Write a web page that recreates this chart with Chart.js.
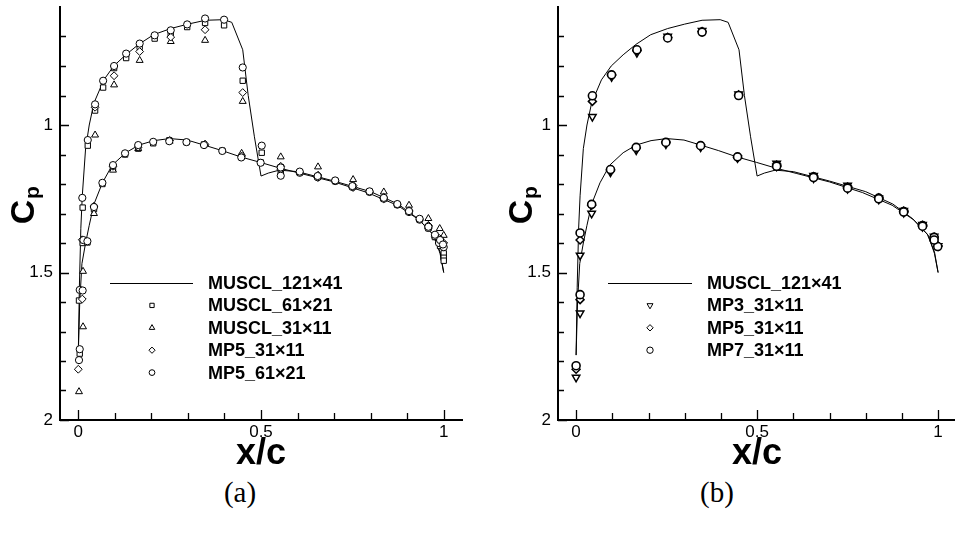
<!DOCTYPE html>
<html>
<head>
<meta charset="utf-8">
<script src="https://cdn.jsdelivr.net/npm/chart.js@4.4.0/dist/chart.umd.min.js"></script>
<style>
  body { margin: 0; width: 955px; height: 542px; overflow: hidden; background: #fff; position: relative; }
  canvas { position: absolute; top: 0; }
  #chartA { left: 0; }
  #chartB { left: 480px; }
  .cap { position: absolute; top: 476px; width: 80px; text-align: center; font-family: "Liberation Serif", serif; font-size: 29px; color: #000; }
</style>
</head>
<body>
<canvas id="chartA" width="480" height="476"></canvas>
<canvas id="chartB" width="482" height="476"></canvas>
<div class="cap" style="left:200px">(a)</div>
<div class="cap" style="left:677px">(b)</div>
<script>
// axis ticks
const xMajor = [0, 0.5, 1];
const yMajor = [1, 1.5, 2];
const xTickMarks = [0, 0.1, 0.2, 0.3, 0.4, 0.5, 0.6, 0.7, 0.8, 0.9, 1];
const yTickMarks = [0.7, 0.8, 0.9, 1, 1.1, 1.2, 1.3, 1.4, 1.5, 1.6, 1.7, 1.8, 1.9, 2];

// MUSCL_121x41 traced as one loop: TE -> upper (shock) side -> LE -> lower side -> TE
const fineX = [1.0, 0.99, 0.97, 0.93, 0.875, 0.8, 0.7, 0.6, 0.55, 0.52, 0.5, 0.482, 0.465, 0.45, 0.42,
  0.398, 0.348, 0.3, 0.253, 0.206, 0.165, 0.13, 0.097, 0.07, 0.043, 0.03, 0.02, 0.011, 0.007, 0.003, 0,
  0.004, 0.01, 0.02, 0.03, 0.043, 0.066, 0.093, 0.13, 0.166, 0.207, 0.25, 0.298, 0.344, 0.394, 0.444,
  0.499, 0.554, 0.608, 0.7, 0.791, 0.873, 0.932, 0.973, 0.99, 1.0];
const fineCp = [1.5, 1.43, 1.37, 1.318, 1.268, 1.226, 1.19, 1.158, 1.153, 1.163, 1.173, 1.04, 0.9, 0.745, 0.652,
  0.643, 0.645, 0.658, 0.673, 0.694, 0.727, 0.762, 0.8, 0.847, 0.925, 1.0, 1.08, 1.24, 1.35, 1.55, 1.78,
  1.6, 1.47, 1.4, 1.34, 1.268, 1.196, 1.136, 1.094, 1.068, 1.053, 1.046, 1.051, 1.068, 1.087, 1.108,
  1.127, 1.147, 1.164, 1.193, 1.229, 1.272, 1.321, 1.374, 1.436, 1.5];

// (a) MUSCL_61x21
const muscl61X = [0.004, 0.002, 0.012, 0.026, 0.046, 0.068, 0.098, 0.131, 0.168, 0.209, 0.253, 0.298, 0.347, 0.399,
  0.45, 0.502, 0.554, 0.606, 0.655, 0.703, 0.75, 0.797, 0.836, 0.873, 0.905, 0.934, 0.958, 0.976, 0.99, 1.0, 1.0, 1.0,
  0.012, 0.025, 0.043, 0.066, 0.095, 0.128, 0.164, 0.205, 0.249, 0.296, 0.344, 0.394, 0.446, 0.499, 0.554];
const muscl61Cp = [1.775, 1.595, 1.28, 1.07, 0.951, 0.873, 0.807, 0.773, 0.735, 0.707, 0.694, 0.668, 0.654, 0.662,
  0.85, 1.094, 1.165, 1.16, 1.175, 1.19, 1.208, 1.226, 1.248, 1.27, 1.294, 1.32, 1.35, 1.38, 1.41, 1.435, 1.45, 1.46,
  1.4, 1.398, 1.285, 1.2, 1.147, 1.1, 1.08, 1.062, 1.052, 1.058, 1.066, 1.087, 1.108, 1.127, 1.143];

// (a) MUSCL_31x11
const muscl31X = [0.002, 0.013, 0.013, 0.046, 0.098, 0.168, 0.253, 0.347, 0.45, 0.554, 0.656, 0.752, 0.836, 0.905,
  0.958, 0.989, 1.0, 0.043, 0.095, 0.164, 0.25, 0.347, 0.447, 0.554, 0.656, 0.752, 0.836, 0.905, 0.958, 0.989];
const muscl31Cp = [1.904, 1.684, 1.496, 1.034, 0.864, 0.781, 0.717, 0.713, 0.92, 1.108, 1.142, 1.185, 1.227, 1.272,
  1.317, 1.351, 1.374, 1.3, 1.153, 1.08, 1.055, 1.065, 1.096, 1.145, 1.176, 1.21, 1.25, 1.294, 1.345, 1.39];

// (a) MP5_31x11
const mp5aX = [0, 0.011, 0.011, 0.046, 0.098, 0.168, 0.253, 0.347, 0.45, 0.554, 0.656, 0.752, 0.836, 0.905, 0.958,
  0.989, 1.0, 0.043, 0.095, 0.164, 0.25, 0.347, 0.447, 0.554, 0.656, 0.752, 0.836, 0.905, 0.958];
const mp5aCp = [1.828, 1.59, 1.389, 0.94, 0.833, 0.751, 0.702, 0.677, 0.89, 1.14, 1.17, 1.205, 1.245, 1.29, 1.34,
  1.385, 1.4, 1.275, 1.14, 1.075, 1.052, 1.066, 1.105, 1.15, 1.178, 1.212, 1.25, 1.293, 1.343];

// (a) MP5_61x21
const mp5fX = [0.002, 0.004, 0.004, 0.011, 0.026, 0.046, 0.068, 0.098, 0.131, 0.168, 0.209, 0.253, 0.298, 0.347,
  0.399, 0.45, 0.502, 0.554, 0.606, 0.655, 0.703, 0.75, 0.797, 0.836, 0.873, 0.905, 0.934, 0.958, 0.976, 0.987, 1.0,
  0.012, 0.014, 0.025, 0.043, 0.066, 0.095, 0.128, 0.164, 0.205, 0.249, 0.296, 0.344, 0.394, 0.446, 0.499, 0.554,
  0.606, 0.655, 0.703, 0.75, 0.797, 0.836, 0.873, 0.905, 0.934, 0.958, 0.976, 0.99, 0.998];
const mp5fCp = [1.797, 1.76, 1.559, 1.247, 1.051, 0.93, 0.85, 0.8, 0.758, 0.724, 0.696, 0.679, 0.659, 0.639,
  0.643, 0.805, 1.07, 1.172, 1.162, 1.177, 1.19, 1.21, 1.227, 1.25, 1.27, 1.295, 1.321, 1.349, 1.377, 1.4, 1.414,
  1.561, 1.39, 1.394, 1.278, 1.196, 1.136, 1.096, 1.068, 1.057, 1.055, 1.058, 1.068, 1.088, 1.11, 1.128, 1.144,
  1.158, 1.173, 1.188, 1.207, 1.225, 1.247, 1.268, 1.292, 1.318, 1.345, 1.372, 1.39, 1.405];

// (b) MP3_31x11
const mp3X = [0, 0.011, 0.011, 0.045, 0.098, 0.168, 0.253, 0.348, 0.449, 0.554, 0.656, 0.75, 0.836, 0.905, 0.957,
  0.989, 1.0, 0.043, 0.095, 0.166, 0.248, 0.344, 0.446, 0.554, 0.656, 0.75, 0.836, 0.905, 0.957];
const mp3Cp = [1.856, 1.442, 1.638, 0.972, 0.837, 0.755, 0.7, 0.68, 0.895, 1.13, 1.172, 1.205, 1.248, 1.29, 1.338,
  1.378, 1.41, 1.3, 1.16, 1.085, 1.065, 1.075, 1.112, 1.14, 1.18, 1.216, 1.252, 1.297, 1.345];

// (b) MP5_31x11
const mp5bX = [0, 0.011, 0.011, 0.045, 0.098, 0.168, 0.253, 0.348, 0.449, 0.554, 0.656, 0.75, 0.836, 0.905, 0.957,
  0.989, 1.0, 0.043, 0.095, 0.166, 0.248, 0.344, 0.446, 0.554, 0.656, 0.75, 0.836, 0.905, 0.957];
const mp5bCp = [1.828, 1.39, 1.592, 0.92, 0.832, 0.748, 0.703, 0.683, 0.898, 1.136, 1.175, 1.21, 1.247, 1.292, 1.34,
  1.38, 1.41, 1.272, 1.155, 1.078, 1.06, 1.072, 1.11, 1.14, 1.178, 1.214, 1.25, 1.295, 1.343];

// (b) MP7_31x11
const mp7X = [0, 0.011, 0.045, 0.098, 0.168, 0.253, 0.348, 0.449, 0.554, 0.656, 0.75, 0.836, 0.905, 0.957, 0.989,
  0.999, 0.011, 0.043, 0.095, 0.166, 0.248, 0.344, 0.446, 0.554, 0.656, 0.75, 0.836, 0.905, 0.957, 0.989];
const mp7Cp = [1.816, 1.366, 0.901, 0.83, 0.745, 0.705, 0.685, 0.9, 1.138, 1.176, 1.212, 1.248, 1.293, 1.341, 1.381,
  1.412, 1.575, 1.269, 1.151, 1.076, 1.059, 1.07, 1.108, 1.14, 1.178, 1.214, 1.25, 1.295, 1.343, 1.39];

const pts = (xs, ys) => xs.map((x, i) => ({ x: x, y: ys[i] }));

function lineSet(label) {
  return {
    label: label, data: pts(fineX, fineCp), showLine: true, borderColor: '#000', borderWidth: 1,
    pointRadius: 0, pointHoverRadius: 0, tension: 0, fill: false, order: 10
  };
}

function markerSet(label, xs, ys, style, r, bw, order, rot) {
  return {
    label: label, data: pts(xs, ys), showLine: false, pointStyle: style,
    pointRadius: r, pointHoverRadius: r, pointBorderWidth: bw, pointRotation: rot || 0,
    pointBorderColor: '#000', pointBackgroundColor: '#fff', order: order
  };
}

const innerTicks = {
  id: 'innerTicks',
  afterDraw(chart) {
    const { ctx, chartArea: a, scales: { x, y } } = chart;
    ctx.save();
    ctx.strokeStyle = '#000';
    ctx.lineWidth = 1.3;
    ctx.beginPath();
    xTickMarks.forEach(v => {
      const px = Math.round(x.getPixelForValue(v)) + 0.5;
      const len = xMajor.includes(v) ? 10 : 7;
      ctx.moveTo(px, a.bottom);
      ctx.lineTo(px, a.bottom - len);
    });
    yTickMarks.forEach(v => {
      const py = Math.round(y.getPixelForValue(v)) + 0.5;
      const len = yMajor.includes(v) ? 9 : 6;
      ctx.moveTo(a.left, py);
      ctx.lineTo(a.left + len, py);
    });
    ctx.stroke();
    ctx.restore();
  }
};

// rotated C with subscript p
const cpTitle = {
  id: 'cpTitle',
  afterDraw(chart, args, opts) {
    const ctx = chart.ctx;
    ctx.save();
    ctx.translate(opts.x, opts.y);
    ctx.rotate(-Math.PI / 2);
    ctx.fillStyle = '#000';
    ctx.textBaseline = 'alphabetic';
    ctx.textAlign = 'center';
    ctx.font = 'bold 34px "Liberation Sans"';
    ctx.fillText('C', 0, 12);
    ctx.textAlign = 'left';
    ctx.font = 'bold 21px "Liberation Sans"';
    ctx.fillText('p', 13, 17);
    ctx.restore();
  }
};

const boxLegend = {
  id: 'boxLegend',
  afterDraw(chart, args, opts) {
    const ctx = chart.ctx;
    ctx.save();
    ctx.font = 'bold 18px "Liberation Sans"';
    ctx.textBaseline = 'middle';
    ctx.fillStyle = '#000';
    chart.data.datasets.forEach((ds, i) => {
      const yy = opts.top + i * opts.gap;
      ctx.strokeStyle = '#000';
      if (ds.showLine) {
        ctx.lineWidth = 1;
        ctx.beginPath();
        ctx.moveTo(opts.lineFrom, yy + 0.5);
        ctx.lineTo(opts.lineTo, yy + 0.5);
        ctx.stroke();
      } else {
        ctx.fillStyle = '#fff';
        Chart.helpers.drawPoint(ctx, {
          pointStyle: ds.pointStyle, rotation: ds.pointRotation,
          radius: ds.pointRadius * 0.8, borderWidth: ds.pointBorderWidth
        }, opts.marker, yy);
        ctx.fillStyle = '#000';
      }
      ctx.fillText(ds.label, opts.text, yy + 1);
    });
    ctx.restore();
  }
};

function makeChart(id, datasets, padLeft, padRight, legendOpts, cpX) {
  new Chart(document.getElementById(id), {
    type: 'scatter',
    data: { datasets: datasets },
    plugins: [innerTicks, cpTitle, boxLegend],
    options: {
      responsive: false,
      animation: false,
      events: [],
      layout: { padding: { left: padLeft, right: padRight, top: 7, bottom: 0 } },
      plugins: {
        legend: { display: false },
        tooltip: { enabled: false },
        cpTitle: { x: cpX, y: 212 },
        boxLegend: legendOpts
      },
      scales: {
        x: {
          type: 'linear', position: 'bottom', min: -0.05, max: 1.05,
          afterBuildTicks: s => { s.ticks = xMajor.map(v => ({ value: v })); },
          afterFit: s => { s.height = 56; s.paddingLeft = 0; s.paddingRight = 0; },
          grid: { display: false, drawTicks: false },
          border: { display: true, color: '#000', width: 2 },
          ticks: {
            color: '#000', padding: 2, maxRotation: 0, autoSkip: false,
            font: { family: 'Liberation Sans', size: 17 },
            callback: v => String(v)
          },
          title: {
            display: true, text: 'x/c', color: '#000',
            font: { family: 'Liberation Sans', weight: 'bold', size: 36, lineHeight: 1 },
            padding: { top: 0, bottom: 4 }
          }
        },
        y: {
          type: 'linear', position: 'left', reverse: true, min: 0.6, max: 2,
          afterBuildTicks: s => { s.ticks = yMajor.map(v => ({ value: v })); },
          afterFit: s => { s.width = 60; s.paddingTop = 0; s.paddingBottom = 0; },
          grid: { display: false, drawTicks: false },
          border: { display: true, color: '#000', width: 2 },
          ticks: {
            color: '#000', padding: 7, autoSkip: false,
            font: { family: 'Liberation Sans', size: 17 },
            callback: v => String(v)
          }
        }
      }
    }
  });
}

makeChart('chartA', [
  lineSet('MUSCL_121\u00d741'),
  markerSet('MUSCL_61\u00d721', muscl61X, muscl61Cp, 'rect', 3.8, 1, 4),
  markerSet('MUSCL_31\u00d711', muscl31X, muscl31Cp, 'triangle', 4, 1, 3),
  markerSet('MP5_31\u00d711', mp5aX, mp5aCp, 'rectRot', 3.9, 1, 2),
  markerSet('MP5_61\u00d721', mp5fX, mp5fCp, 'circle', 3.6, 1, 1)
], 0, 18, { top: 283, gap: 22.4, lineFrom: 110, lineTo: 193, marker: 152, text: 208 }, 22);

makeChart('chartB', [
  lineSet('MUSCL_121\u00d741'),
  markerSet('MP3_31\u00d711', mp3X, mp3Cp, 'triangle', 4.3, 1.5, 3, 180),
  markerSet('MP5_31\u00d711', mp5bX, mp5bCp, 'rectRot', 4, 1.5, 2),
  markerSet('MP7_31\u00d711', mp7X, mp7Cp, 'circle', 4, 1.6, 1)
], 18, 2, { top: 283, gap: 22.4, lineFrom: 128, lineTo: 212, marker: 170, text: 227 }, 40);
</script>
</body>
</html>
